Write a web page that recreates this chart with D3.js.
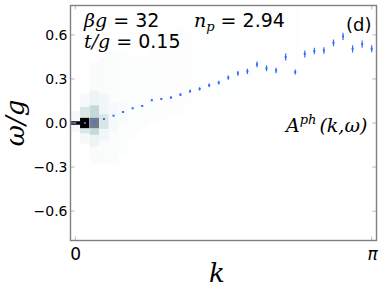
<!DOCTYPE html>
<html>
<head>
<meta charset="utf-8">
<script src="https://cdn.jsdelivr.net/npm/d3@7"></script>
<style>
  body { margin: 0; background: #fff; }
  svg text { font-family: "DejaVu Sans", sans-serif; }
  .math { font-family: "DejaVu Serif", serif; font-style: italic; }
</style>
</head>
<body>
<div id="viz"></div>
<script>
"use strict";

// k index 0..31 maps 0..pi
var kIndex = d3.range(32);
var omega = [0.0, 0.0, 0.01, 0.027, 0.05, 0.075, 0.10, 0.116, 0.155, 0.164,
	0.173, 0.193, 0.216, 0.232, 0.257, 0.275, 0.309, 0.338, 0.352, 0.399,
	0.372, 0.358, 0.449, 0.347, 0.470, 0.490, 0.494, 0.546, 0.590, 0.505,
	0.537, 0.505];
var omegaErr = [0.002, 0.002, 0.003, 0.003, 0.004, 0.004, 0.005, 0.005, 0.006, 0.007,
	0.008, 0.009, 0.010, 0.011, 0.012, 0.013, 0.015, 0.016, 0.018, 0.020,
	0.019, 0.019, 0.024, 0.017, 0.024, 0.022, 0.022, 0.023, 0.025, 0.025,
	0.024, 0.024];
var yTicks = [-0.6, -0.3, 0.0, 0.3, 0.6];
var xTicks = [0, 31];
var xTickLabels = ["0", "\u03c0"];

// spectral weight bands: [k, omega low, omega high, level 0..1]
var heatBands = [
	[0, -0.06, 0.08, 0.025], [0, -0.012, 0.012, 1.0],
	[1, -0.14, 0.2, 0.025], [1, -0.07, 0.11, 0.11], [1, -0.035, 0.035, 1.0],
	[2, -0.28, 0.42, 0.015], [2, -0.16, 0.22, 0.05], [2, -0.08, 0.12, 0.17], [2, -0.035, 0.035, 0.5],
	[3, -0.28, 0.45, 0.015], [3, -0.12, 0.2, 0.04], [3, -0.04, 0.06, 0.11],
	[4, -0.28, 0.48, 0.012], [4, -0.06, 0.14, 0.025],
	[5, -0.22, 0.5, 0.01], [5, 0.0, 0.15, 0.016],
	[6, -0.1, 0.45, 0.009], [7, -0.05, 0.45, 0.008], [8, 0.0, 0.5, 0.008],
	[9, 0.02, 0.55, 0.007], [10, 0.05, 0.6, 0.007], [11, 0.05, 0.65, 0.007],
	[12, 0.1, 0.7, 0.006], [13, 0.1, 0.72, 0.006], [14, 0.15, 0.75, 0.006],
	[15, 0.15, 0.78, 0.005], [16, 0.2, 0.8, 0.005], [17, 0.2, 0.8, 0.005],
	[18, 0.22, 0.8, 0.004], [19, 0.25, 0.8, 0.004], [20, 0.25, 0.8, 0.004],
	[21, 0.25, 0.8, 0.003], [22, 0.3, 0.8, 0.003], [23, 0.3, 0.8, 0.003]
];

// matplotlib bone_r
var boneR = function(t) {
	var s = 1 - Math.max(0, Math.min(1, t));
	var piece = function(pts) {
		for (var i = 1; i < pts.length; i++) {
			if (s <= pts[i][0]) {
				var a = pts[i-1], b = pts[i];
				return a[1] + (b[1] - a[1]) * (s - a[0]) / (b[0] - a[0]);
			}
		}
		return 1;
	};
	var r = piece([[0, 0], [0.746032, 0.652778], [1, 1]]);
	var g = piece([[0, 0], [0.365079, 0.319444], [0.746032, 0.777778], [1, 1]]);
	var b = piece([[0, 0], [0.365079, 0.444444], [1, 1]]);
	return d3.rgb(r * 255, g * 255, b * 255).toString();
};

var width = 382, height = 287;
var pLeft = 70.5, pRight = 376.5, pTop = 5.5, pBottom = 240.5;

var x = d3.scaleLinear().domain([-0.5, 31.5]).range([pLeft, pRight]);
var y = d3.scaleLinear().domain([-0.8, 0.8]).range([pBottom, pTop]);

var svg = d3.select("#viz").append("svg")
	.attr("width", width)
	.attr("height", height);

svg.append("defs").append("clipPath").attr("id", "clip")
	.append("rect")
	.attr("x", pLeft).attr("y", pTop)
	.attr("width", pRight - pLeft).attr("height", pBottom - pTop);

var plot = svg.append("g").attr("clip-path", "url(#clip)");

plot.selectAll("rect.cell")
	.data(heatBands)
	.enter()
	.append("rect")
	.attr("class", "cell")
	.attr("x", function(d) { return x(d[0] - 0.5); })
	.attr("width", function(d) { return x(d[0] + 0.5) - x(d[0] - 0.5) + 0.3; })
	.attr("y", function(d) { return y(d[2]); })
	.attr("height", function(d) { return y(d[1]) - y(d[2]); })
	.attr("fill", function(d) { return boneR(d[3]); });

var blue = "#2f6bff";

plot.selectAll("line.err")
	.data(kIndex)
	.enter()
	.append("line")
	.attr("class", "err")
	.attr("x1", function(d) { return x(d); })
	.attr("x2", function(d) { return x(d); })
	.attr("y1", function(d) { return y(omega[d] - omegaErr[d]); })
	.attr("y2", function(d) { return y(omega[d] + omegaErr[d]); })
	.attr("stroke", blue)
	.attr("stroke-width", 1.2);

plot.selectAll("rect.pt")
	.data(kIndex)
	.enter()
	.append("rect")
	.attr("class", "pt")
	.attr("x", function(d) { return x(d) - 1; })
	.attr("y", function(d) { return y(omega[d]) - 1; })
	.attr("width", 2)
	.attr("height", 2)
	.attr("fill", blue);

// ticks, inward on all sides
var tickCol = "#b8b8b8", tickLen = 4;
yTicks.forEach(function(t) {
	svg.append("line").attr("x1", pLeft).attr("x2", pLeft + tickLen)
		.attr("y1", y(t)).attr("y2", y(t)).attr("stroke", tickCol);
	svg.append("line").attr("x1", pRight - tickLen).attr("x2", pRight)
		.attr("y1", y(t)).attr("y2", y(t)).attr("stroke", tickCol);
	svg.append("text")
		.attr("x", pLeft - 3)
		.attr("y", y(t) + 5)
		.attr("text-anchor", "end")
		.attr("font-size", "14px")
		.text(t === 0 ? "0.0" : d3.format(".1f")(t).replace("-", "\u2212"));
});
xTicks.forEach(function(t, i) {
	svg.append("line").attr("x1", x(t)).attr("x2", x(t))
		.attr("y1", pBottom).attr("y2", pBottom - tickLen).attr("stroke", tickCol);
	svg.append("line").attr("x1", x(t)).attr("x2", x(t))
		.attr("y1", pTop).attr("y2", pTop + tickLen).attr("stroke", tickCol);
	svg.append("text")
		.attr("x", x(t) + (i === 1 ? 1 : 0.5))
		.attr("y", pBottom + 19)
		.attr("text-anchor", "middle")
		.attr("font-size", "17px")
		.attr("font-family", "DejaVu Serif, serif")
		.attr("font-style", i === 1 ? "italic" : "normal")
		.text(xTickLabels[i]);
});

// frame
svg.append("rect")
	.attr("x", pLeft).attr("y", pTop)
	.attr("width", pRight - pLeft).attr("height", pBottom - pTop)
	.attr("fill", "none")
	.attr("stroke", "#808080")
	.attr("stroke-width", 1.4);

// axis labels
svg.append("text")
	.attr("class", "math")
	.attr("transform", "translate(24," + ((pTop + pBottom) / 2) + ") rotate(-90)")
	.attr("text-anchor", "middle")
	.attr("font-size", "26px")
	.text("\u03c9/g");

svg.append("text")
	.attr("class", "math")
	.attr("x", 217)
	.attr("y", 282)
	.attr("text-anchor", "middle")
	.attr("font-size", "26px")
	.text("k");

// annotations
var t1 = svg.append("text").attr("x", 84).attr("y", 27).attr("font-size", "19px");
t1.append("tspan").attr("class", "math").text("\u03b2g");
t1.append("tspan").text(" = 32");

var t2 = svg.append("text").attr("x", 84).attr("y", 48).attr("font-size", "19px");
t2.append("tspan").attr("class", "math").text("t/g");
t2.append("tspan").text(" = 0.15");

var t3 = svg.append("text").attr("x", 194).attr("y", 27).attr("font-size", "19px");
t3.append("tspan").attr("class", "math").text("n");
t3.append("tspan").attr("class", "math").attr("font-size", "13px").attr("dy", 4).text("p");
t3.append("tspan").attr("dy", -4).text(" = 2.94");

svg.append("text").attr("x", 346).attr("y", 31).attr("font-size", "18px").text("(d)");

var t4 = svg.append("text").attr("x", 286).attr("y", 132).attr("font-size", "19px");
t4.append("tspan").attr("class", "math").text("A");
t4.append("tspan").attr("class", "math").attr("font-size", "13px").attr("dy", -8).text("ph");
t4.append("tspan").attr("class", "math").attr("dy", 8).attr("dx", 3).text("(k,\u03c9)");
</script>
</body>
</html>
